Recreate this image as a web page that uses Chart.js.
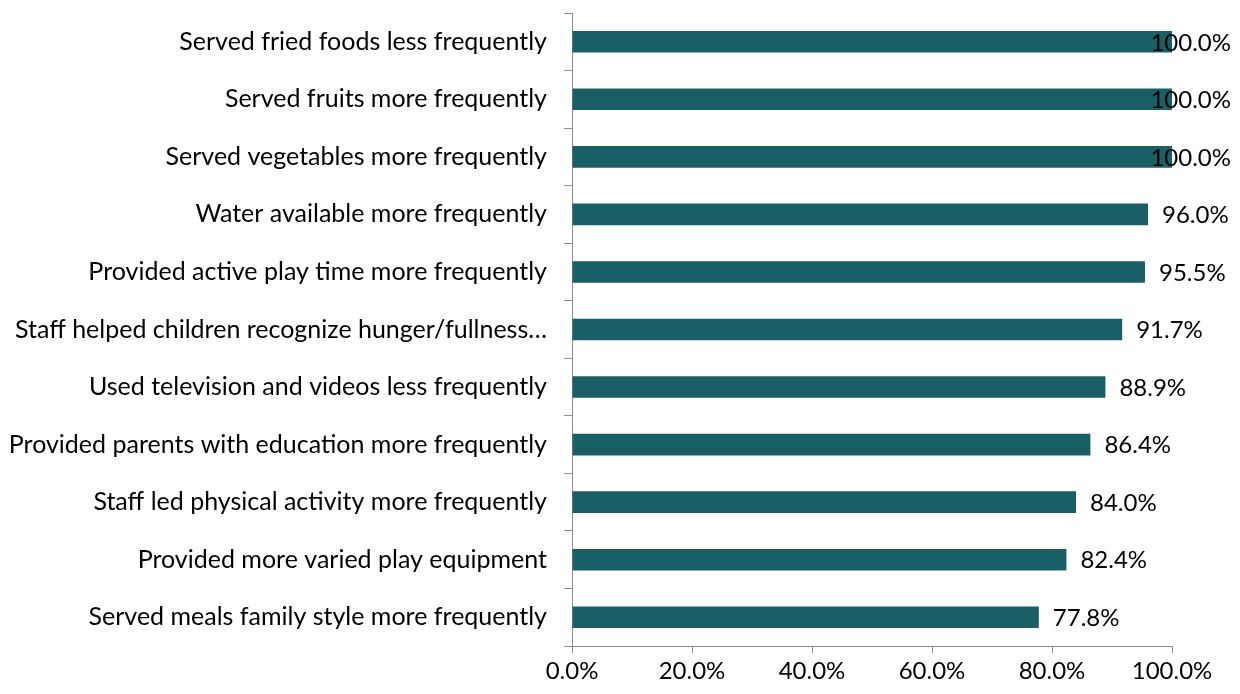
<!DOCTYPE html>
<html>
<head>
<meta charset="utf-8">
<script src="https://cdn.jsdelivr.net/npm/chart.js@4"></script>
<style>
  body { margin: 0; background: #fff; }
  #wrap { width: 1240px; height: 694px; position: relative; }
</style>
</head>
<body>
<div id="wrap"><canvas id="grafico" width="1240" height="694"></canvas></div>
<script>
const categorias = [
    'Served fried foods less frequently',
    'Served fruits more frequently',
    'Served vegetables more frequently',
    'Water available more frequently',
    'Provided active play time more frequently',
    'Staff helped children recognize hunger/fullness\u2026',
    'Used television and videos less frequently',
    'Provided parents with education more frequently',
    'Staff led physical activity more frequently',
    'Provided more varied play equipment',
    'Served meals family style more frequently'
];
const valores = [100.0, 100.0, 100.0, 96.0, 95.5, 91.7, 88.9, 86.4, 84.0, 82.4, 77.8];
const ticksX = [0, 20, 40, 60, 80, 100];

const fonte = "Lato, 'Open Sans', sans-serif";
const corBarra = '#1a5e66';
const corEixo = '#8c8c8c';

// rótulos de valor à direita das barras
const rotulosPlugin = {
    id: 'rotulos',
    afterDatasetsDraw(chart) {
        const { ctx } = chart;
        const meta = chart.getDatasetMeta(0);
        ctx.save();
        ctx.font = '24px ' + fonte;
        ctx.fillStyle = '#000';
        ctx.textBaseline = 'middle';
        ctx.textAlign = 'left';
        meta.data.forEach((bar, i) => {
            const txt = valores[i].toFixed(1) + '%';
            const w = ctx.measureText(txt).width;
            let x = bar.x + 14;
            if (x + w > chart.width - 9) x = chart.width - 9 - w;
            ctx.fillText(txt, x, bar.y + 1);
        });
        ctx.restore();
    }
};

const ctx = document.getElementById('grafico').getContext('2d');
const grafico = new Chart(ctx, {
    type: 'bar',
    data: {
        labels: categorias,
        datasets: [{
            data: valores,
            backgroundColor: corBarra,
            barPercentage: 0.75,
            categoryPercentage: 0.5
        }]
    },
    options: {
        indexAxis: 'y',
        responsive: false,
        animation: false,
        layout: { padding: { top: 13, right: 68, left: 0, bottom: 0 } },
        plugins: {
            legend: { display: false },
            tooltip: { enabled: false }
        },
        scales: {
            x: {
                min: 0,
                max: 100,
                afterBuildTicks: (scale) => {
                    scale.ticks = ticksX.map(v => ({ value: v }));
                },
                afterFit: (scale) => {
                    scale.height = 48;
                    scale.paddingLeft = 0;
                    scale.paddingRight = 0;
                },
                border: { color: corEixo, width: 1 },
                grid: { drawOnChartArea: false, drawTicks: true, tickLength: 7, color: corEixo },
                ticks: {
                    padding: 4,
                    color: '#000',
                    font: { family: fonte, size: 24 },
                    maxRotation: 0,
                    callback: (v) => Number(v).toFixed(1) + '%'
                }
            },
            y: {
                afterFit: (scale) => {
                    scale.width = 572;
                    scale.paddingTop = 0;
                    scale.paddingBottom = 0;
                },
                border: { color: corEixo, width: 1 },
                grid: { drawOnChartArea: false, drawTicks: true, tickLength: 8, color: corEixo, offset: true },
                ticks: {
                    padding: 17,
                    color: '#000',
                    font: { family: fonte, size: 25 },
                    autoSkip: false
                }
            }
        }
    },
    plugins: [rotulosPlugin]
});
</script>
</body>
</html>
